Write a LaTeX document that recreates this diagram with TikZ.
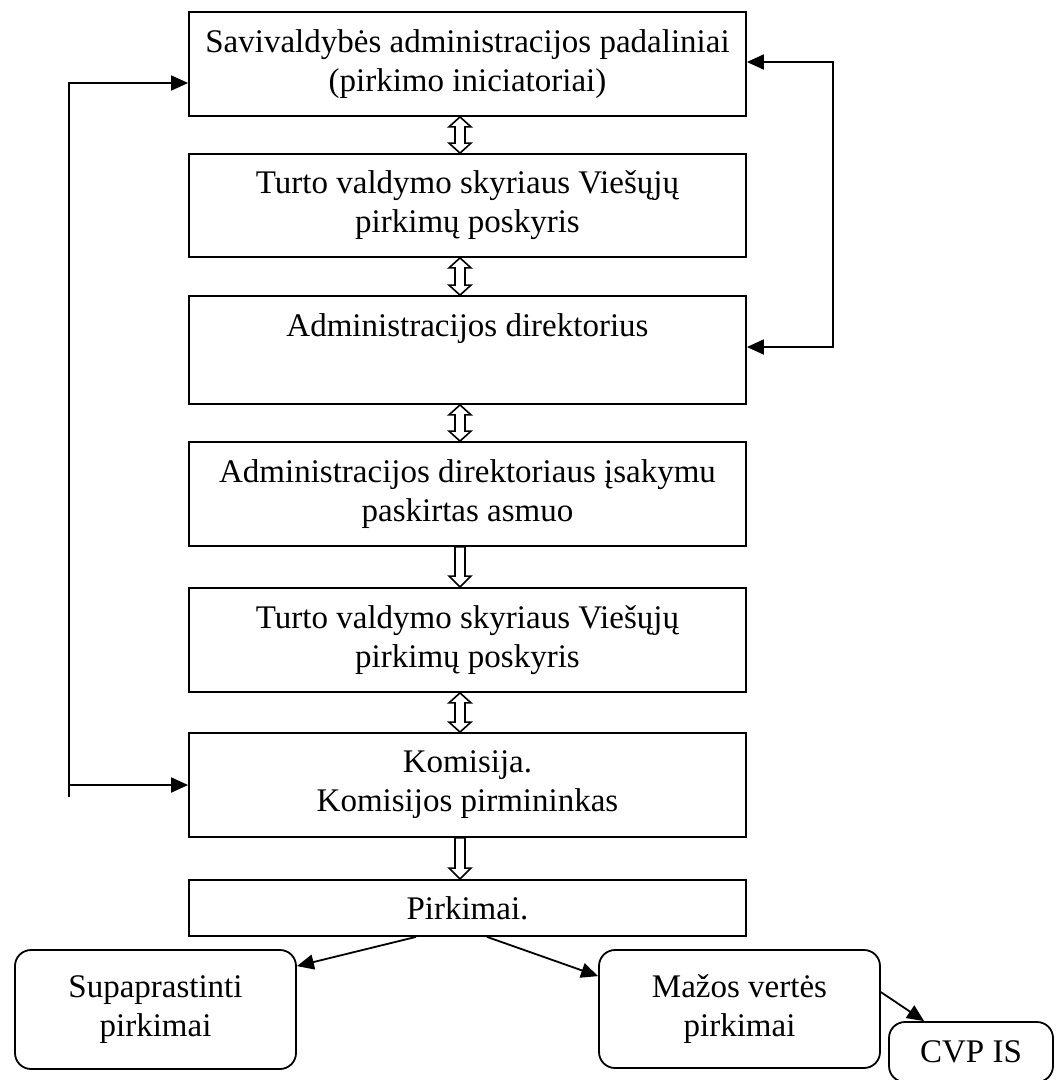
\documentclass[tikz,border=0pt]{standalone}
\usepackage{fontspec}
\setmainfont{Liberation Serif}
\usetikzlibrary{calc,arrows.meta}
\newcommand\hdbl[2]{%
  \draw[hollow] let \p1=([xshift=-7.5pt]#1.south), \p2=([xshift=-7.5pt]#2.north) in
    (\x1,\y1) -- (\x1+11pt,\y1-10pt) -- (\x1+5pt,\y1-10pt) -- (\x1+5pt,\y2+10pt)
    -- (\x1+11pt,\y2+10pt) -- (\x1,\y2) -- (\x1-11pt,\y2+10pt) -- (\x1-5pt,\y2+10pt)
    -- (\x1-5pt,\y1-10pt) -- (\x1-11pt,\y1-10pt) -- cycle;}
\newcommand\hsgl[2]{%
  \draw[hollow] let \p1=([xshift=-7.5pt]#1.south), \p2=([xshift=-7.5pt]#2.north) in
    (\x1-5pt,\y1) -- (\x1+5pt,\y1) -- (\x1+5pt,\y2+11pt) -- (\x1+11pt,\y2+11pt)
    -- (\x1,\y2) -- (\x1-11pt,\y2+11pt) -- (\x1-5pt,\y2+11pt) -- cycle;}
\begin{document}
\begin{tikzpicture}[x=1pt,y=-1pt,
  txt/.style={font=\fontsize{33}{39}\selectfont},
  box/.style={draw,line width=1.8pt,minimum width=557pt,align=center,inner sep=0pt,txt},
  rbox/.style={draw,line width=1.8pt,rounded corners=16pt,align=center,inner sep=0pt,txt},
  tip/.tip={Triangle[length=17pt,width=15pt]},
  conn/.style={line width=1.8pt,-tip},
  both/.style={line width=1.8pt,tip-tip},
  hollow/.style={draw,line width=1.6pt,fill=white}]
\useasboundingbox (0,0) rectangle (1061,1080);
\node[box,minimum height=104pt] (b1) at (467.5,64) {Savivaldybės administracijos padaliniai\\(pirkimo iniciatoriai)};
\node[box,minimum height=103pt] (b2) at (467.5,205.5) {Turto valdymo skyriaus Viešųjų\\pirkimų poskyris};
\node[box,minimum height=108pt] (b3) at (467.5,350) {Administracijos direktorius\\\strut};
\node[box,minimum height=104pt] (b4) at (467.5,494) {Administracijos direktoriaus įsakymu\\paskirtas asmuo};
\node[box,minimum height=104pt] (b5) at (467.5,640) {Turto valdymo skyriaus Viešųjų\\pirkimų poskyris};
\node[box,minimum height=104pt] (b6) at (467.5,785) {Komisija.\\Komisijos pirmininkas};
\node[box,minimum height=56pt] (b7) at (467.5,908) {Pirkimai.};
\node[rbox,minimum width=281pt,minimum height=119pt] (s1) at (155.5,1009.5) {Supaprastinti\\pirkimai};
\node[rbox,minimum width=281pt,minimum height=118pt] (m1) at (739.5,1009) {Mažos vertės\\pirkimai};
\node[rbox,minimum width=164pt,minimum height=60pt] (c1) at (971,1052) {CVP IS};
% hollow arrows
\hdbl{b1}{b2}
\hdbl{b2}{b3}
\hdbl{b3}{b4}
\hsgl{b4}{b5}
\hdbl{b5}{b6}
\hsgl{b6}{b7}
% left loop
\coordinate (L1) at (69,83);
\coordinate (L2) at (69,797);
\draw[line width=1.8pt] (L1|-b6.west) -- (L2);
\draw[both] (b1.west|-L1) -- (L1) -- (L1|-b6.west) -- (b6.west);
% right loop
\coordinate (R1) at (833,62);
\coordinate (R2) at (833,347);
\draw[both] (b1.east|-R1) -- (R1) -- (R2) -- (b3.east|-R2);
% bottom arrows
\draw[conn] ([xshift=-51.5pt]b7.south) -- ([yshift=-17pt]s1.north east);
\draw[conn] ([xshift=19.5pt]b7.south) -- ([yshift=-27pt]m1.north west);
\draw[conn] ([yshift=-43pt]m1.north east) -- ([xshift=36pt]c1.north west);
\end{tikzpicture}
\end{document}
